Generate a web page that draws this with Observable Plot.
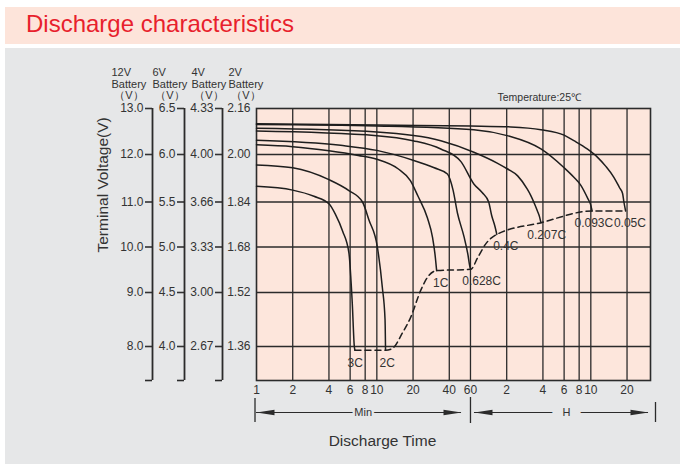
<!DOCTYPE html>
<html><head><meta charset="utf-8">
<script src="https://cdn.jsdelivr.net/npm/d3@7"></script>
<script src="https://cdn.jsdelivr.net/npm/@observablehq/plot@0.6"></script>
<style>
body{margin:0;background:#fff;width:680px;height:464px;position:relative;overflow:hidden;font-family:"Liberation Sans",Arial,Helvetica,sans-serif;}
#title{position:absolute;left:5px;top:7px;width:675px;height:37px;background:#fde4da;}
#title span{position:absolute;left:21px;top:5px;line-height:24px;font-size:24px;color:#e81f2d;font-family:"Liberation Sans",Arial,sans-serif;white-space:nowrap;}
#panel{position:absolute;left:5px;top:48px;width:675px;height:416px;background:#e6e7e8;}
#chart{position:absolute;left:0;top:48px;}
</style></head><body>
<div id="title"><span>Discharge characteristics</span></div>
<div id="panel"></div>
<div id="chart"></div>
<script>
// ---- data ----
const voltTicks = [13, 12, 11, 10, 9, 8];
const labels12 = ["13.0", "12.0", "11.0", "10.0", "9.0", "8.0"];
const labels6 = ["6.5", "6.0", "5.5", "5.0", "4.5", "4.0"];
const labels4 = ["4.33", "4.00", "3.66", "3.33", "3.00", "2.67"];
const labels2 = ["2.16", "2.00", "1.84", "1.68", "1.52", "1.36"];
const batteries = ["12V", "6V", "4V", "2V"];
const timeTicks = [1, 2, 4, 6, 8, 10, 20, 40, 60, 120, 240, 360, 480, 600, 1200];
const timeLabels = ["1", "2", "4", "6", "8", "10", "20", "40", "60", "2", "4", "6", "8", "10", "20"];
const rates = ["3C", "2C", "1C", "0.628C", "0.4C", "0.207C", "0.093C", "0.05C"];

// discharge curves: [minutes, volts (12V battery)]
const curve3C = [[1,11.33],[2,11.25],[3,11.12],[4,10.96],[4.54,10.72],[5.2,10.35],[5.86,9.87],[6.25,8.8],[6.5,8.0],[6.58,7.93]];
const curve2C = [[1,11.78],[2,11.72],[4,11.47],[5.86,11.24],[7.6,11.0],[8.6,10.6],[10.1,10.0],[11.1,9.12],[11.7,8.5],[11.81,7.93]];
const curve1C = [[1,12.21],[2,12.17],[4,12.08],[7,11.98],[10,11.9],[15,11.7],[19,11.45],[22,11.12],[26.3,10.65],[29,10.22],[30.4,9.85],[31.4,9.48]];
const curve0628C = [[1,12.31],[5,12.2],[10,12.09],[20,11.88],[30,11.72],[38.6,11.59],[43,11.25],[46.8,10.75],[53,10.23],[57,9.85],[59.4,9.56],[60.3,9.51]];
const curve04C = [[1,12.51],[10,12.41],[20,12.3],[34,12.12],[50,11.85],[64,11.38],[75,11.2],[85,11.0],[90,10.7],[96,10.45],[99.3,10.28]];
const curve0207C = [[1,12.57],[10,12.49],[34,12.3],[64,12.05],[100,11.82],[121,11.7],[148,11.55],[178,11.27],[190,11.14],[205,10.95],[216,10.8],[225,10.67],[231,10.54]];
const curve0093C = [[1,12.65],[10,12.62],[64,12.54],[121,12.41],[231,12.12],[360,11.72],[434,11.52],[496,11.35],[567,11.07],[600,10.93],[615,10.8]];
const curve005C = [[1,12.67],[10,12.64],[60,12.62],[130,12.6],[231,12.54],[360,12.42],[434,12.3],[560,12.12],[683,11.94],[800,11.75],[933,11.52],[1040,11.3],[1102,11.18],[1130,11.0],[1168,10.8]];
// end-of-discharge (dashed) line
const endLine = [[6.58,7.93],[11.81,7.93],[13.4,7.96],[16.4,8.26],[19.1,8.54],[23.1,9.04],[26.3,9.33],[31.4,9.48],[60.3,9.51],[69,9.77],[80.4,10.07],[99.3,10.28],[231,10.54],[615,10.8],[1168,10.8]];
// curve label anchors [minutes, volts]
const labelAt = [[6.62,7.69],[12.2,7.69],[34,9.2],[74.2,9.24],[118,10.01],[258,10.26],[636,10.53],[1268,10.53]];
const spans = [{unit: "Min", from: 1, to: 60, mid: 7.7}, {unit: "H", from: 60, to: 1880, mid: 377}];

// ---- build ----
const curves = [curve3C, curve2C, curve1C, curve0628C, curve04C, curve0207C, curve0093C, curve005C];
const rows = rates.flatMap((r, i) => curves[i].map(([t, v]) => ({rate: r, t, v})));
const endRows = endLine.map(([t, v]) => ({t, v}));
const labelRows = rates.map((r, i) => ({rate: r, t: labelAt[i][0], v: labelAt[i][1]}));
const timeRows = timeTicks.map((t, i) => ({t, label: timeLabels[i]}));

const yMin = 7.37;
const ink = "#2b2b2b";
const txt = "#333";

function batteryAxis(labels, dx, withTicks) {
  const fmt = d => labels[voltTicks.indexOf(d)];
  const marks = [Plot.axisY(voltTicks, {anchor: "left", dx, tickSize: withTicks ? 7 : 0, tickPadding: withTicks ? 2 : 6,
    tickFormat: fmt, fontSize: 12, color: txt, strokeWidth: 1.6, label: null})];
  if (withTicks) {
    marks.push(Plot.ruleX([1], {y1: 13, y2: yMin, dx, stroke: ink, strokeWidth: 1.8}));
    marks.push(Plot.axisY([yMin], {anchor: "left", dx, tickSize: 7, tickFormat: () => "", color: ink, strokeWidth: 1.6, label: null}));
  }
  return marks;
}

const headerLeft = [-145, -104, -65, -28];
const headerMarks = batteries.flatMap((b, i) => [
  Plot.text([`${b}\nBattery`], {frameAnchor: "top-left", dx: headerLeft[i], dy: -20.5, lineAnchor: "bottom", textAnchor: "start", lineHeight: 1.07, fontSize: 11, fill: txt}),
  Plot.text(["（V）"], {frameAnchor: "top-left", dx: headerLeft[i] + 17.5, dy: -9.5, lineAnchor: "bottom", textAnchor: "middle", fontSize: 11, fill: txt})
]);

const arrowRight = {draw(ctx) { ctx.moveTo(0, 0); ctx.lineTo(-18, -2.7); ctx.lineTo(-18, 2.7); ctx.closePath(); }};
const arrowLeft = {draw(ctx) { ctx.moveTo(0, 0); ctx.lineTo(18, -2.7); ctx.lineTo(18, 2.7); ctx.closePath(); }};

const plot = Plot.plot({
  width: 680, height: 416,
  marginLeft: 256, marginRight: 30, marginTop: 60, marginBottom: 84,
  style: {background: "transparent", overflow: "visible", fontFamily: '"Liberation Sans",Arial,Helvetica,sans-serif', color: txt},
  x: {type: "log", domain: [1, 1880], axis: null},
  y: {type: "linear", domain: [yMin, 8, 9, 10, 11, 12, 13], range: [332, 298, 244, 198.5, 153.5, 106, 60]},
  marks: [
    Plot.frame({fill: "#fde6dc", stroke: null}),
    Plot.gridX(timeTicks.slice(1), {stroke: ink, strokeOpacity: 1, strokeWidth: 1.3}),
    Plot.gridY(voltTicks.slice(1), {stroke: ink, strokeOpacity: 1, strokeWidth: 1.3}),
    Plot.frame({stroke: ink, strokeWidth: 1.6}),
    Plot.line(rows, {x: "t", y: "v", z: "rate", curve: "monotone-x", stroke: "#1e1e1e", strokeWidth: 1.5}),
    Plot.line(endRows, {x: "t", y: "v", curve: "monotone-x", stroke: "#1e1e1e", strokeWidth: 1.5, strokeDasharray: "6,4"}),
    Plot.text(labelRows, {x: "t", y: "v", text: "rate", fontSize: 12, fill: txt}),
    ...batteryAxis(labels12, -104, true),
    ...batteryAxis(labels6, -72, true),
    ...batteryAxis(labels4, -34, true),
    ...batteryAxis(labels2, 0, false),
    ...headerMarks,
    // time tick labels
    Plot.text(timeRows, {x: "t", frameAnchor: "bottom", dy: 10, lineAnchor: "middle", text: "label", fontSize: 12, fill: txt}),
    Plot.text(["Temperature:25℃"], {frameAnchor: "top-left", dx: 241, dy: -8, lineAnchor: "bottom", textAnchor: "start", fontSize: 10.5, fill: txt}),
    Plot.text(["Terminal Voltage(V)"], {frameAnchor: "left", rotate: -90, dx: -153.5, dy: 8, fontSize: 15.5, fill: txt}),
    Plot.text(["Discharge Time"], {frameAnchor: "bottom", dx: -71, dy: 65, lineAnchor: "bottom", fontSize: 15.5, fill: txt}),
    // time-unit range annotations
    Plot.ruleY([spans[0]], {x1: "from", x2: "to", y: yMin, dy: 32, insetRight: 9, stroke: ink, strokeWidth: 1.2}),
    Plot.ruleY([spans[1]], {x1: "from", x2: "to", y: yMin, dy: 32, insetLeft: 4, insetRight: 2, stroke: ink, strokeWidth: 1.2}),
    Plot.dot([spans[0]], {x: "from", y: yMin, dy: 32, symbol: arrowLeft, fill: ink, stroke: "none"}),
    Plot.dot([spans[0]], {x: "to", y: yMin, dy: 32, dx: -9, symbol: arrowRight, fill: ink, stroke: "none"}),
    Plot.dot([spans[1]], {x: "from", y: yMin, dy: 32, dx: 4, symbol: arrowLeft, fill: ink, stroke: "none"}),
    Plot.dot([spans[1]], {x: "to", y: yMin, dy: 32, dx: -2, symbol: arrowRight, fill: ink, stroke: "none"}),
    Plot.ruleX([spans[0].from], {y1: yMin, y2: yMin, dy: 30, dx: -1.5, insetTop: -12, insetBottom: -12, stroke: ink, strokeWidth: 1.3}),
    Plot.ruleX([spans[0].to], {y1: yMin, y2: yMin, dy: 30, insetTop: -13, insetBottom: -13, stroke: ink, strokeWidth: 1.3}),
    Plot.ruleX([spans[1].to], {y1: yMin, y2: yMin, dy: 32, dx: 5, insetTop: -10, insetBottom: -10, stroke: ink, strokeWidth: 1.3}),
    Plot.text([spans[0]], {x: "mid", y: yMin, dy: 32, text: "unit", fontSize: 11, fill: txt, stroke: "#e6e7e8", strokeWidth: 5}),
    Plot.text([spans[1]], {x: "mid", y: yMin, dy: 32, text: "unit", fontSize: 11, fill: txt, stroke: "#e6e7e8", strokeWidth: 22})
  ]
});
document.getElementById("chart").appendChild(plot);
</script></body></html>
